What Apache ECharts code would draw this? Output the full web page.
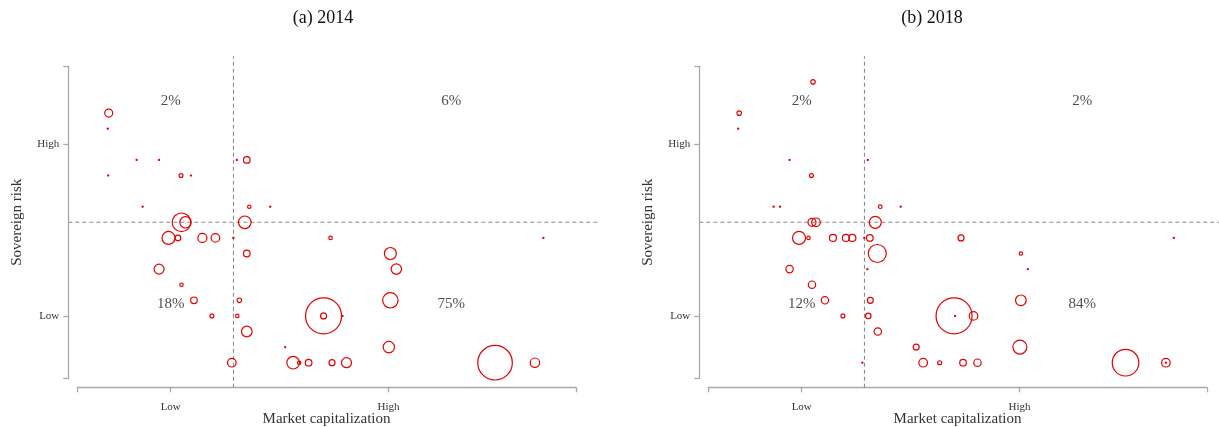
<!DOCTYPE html>
<html><head><meta charset="utf-8">
<script src="https://cdn.jsdelivr.net/npm/echarts@6/dist/echarts.min.js"></script>
<style>html,body{margin:0;padding:0;background:#fff}#c{width:1219px;height:427px}</style>
</head><body><div id="c"></div>
<script>
// ---------------- data ----------------
const panelTitles = ['(a) 2014', '(b) 2018'];
const xAxisName = 'Market capitalization';
const yAxisName = 'Sovereign risk';
const xTickLabels = ['Low', 'High'];
const xTickValues = [18.74, 62.45];
const yTickLabels = ['Low', 'High'];
const yTickValues = [4, 15];
const xThreshold = 31.33;
const yThreshold = 10;

// 2014: market-cap position, sovereign-risk level, bubble weight
const x2014 = [6.3, 6.1, 11.9, 16.4, 6.2, 20.8, 22.8, 13.1, 20.9, 21.7,
  18.3, 20.2, 25.1, 27.7, 31.3, 32.0, 34.0, 34.5, 38.7, 33.6,
  50.8, 93.5, 34.0, 62.8, 64.0, 16.4, 20.9, 23.4, 32.5, 62.8,
  27.0, 32.1, 49.4, 49.4, 53.2, 34.0, 41.7, 62.5, 31.0, 43.3,
  44.5, 46.4, 51.1, 54.0, 83.8, 91.8];
const y2014 = [17, 16, 14, 14, 13, 13, 13, 11, 10, 10,
  9, 9, 9, 9, 9, 14, 14, 11, 11, 10,
  9, 9, 8, 8, 7, 7, 6, 5, 5, 5,
  4, 4, 4, 4, 4, 3, 2, 2, 1, 1,
  1, 1, 1, 1, 1, 1];
const w2014 = [4.9, 0.1, 0.1, 0.1, 0.1, 1.2, 0.1, 0.1, 26.7, 10.0,
  13.0, 2.4, 6.3, 5.7, 0.1, 0.1, 3.4, 0.9, 0.1, 12.3,
  0.9, 0.1, 3.4, 11.1, 8.3, 7.7, 0.9, 3.4, 1.6, 18.3,
  1.2, 0.9, 100, 2.8, 0.1, 8.7, 0.1, 10.0, 5.7, 12.3,
  0.9, 3.4, 2.8, 7.7, 92.4, 6.8];

// 2018
const x2018 = [21.0, 6.2, 6.0, 16.3, 32.0, 20.7, 13.1, 14.4, 34.5, 38.6,
  20.8, 21.6, 33.5, 18.2, 20.1, 25.0, 27.6, 28.9, 31.3, 32.4,
  50.7, 93.4, 33.9, 62.7, 16.3, 31.9, 64.1, 20.8, 23.4, 32.5,
  62.7, 27.0, 32.1, 49.3, 49.5, 53.2, 34.0, 41.7, 62.5, 30.9,
  43.1, 46.4, 51.1, 54.0, 83.7, 91.8, 91.8];
const y2018 = [19, 17, 16, 14, 14, 13, 11, 11, 11, 11,
  10, 10, 10, 9, 9, 9, 9, 9, 9, 9,
  9, 9, 8, 8, 7, 7, 7, 6, 5, 5,
  5, 4, 4, 4, 4, 4, 3, 2, 2, 1,
  1, 1, 1, 1, 1, 1, 1];
const w2018 = [1.6, 1.6, 0.1, 0.1, 0.1, 1.2, 0.1, 0.1, 1.0, 0.1,
  4.9, 5.7, 11.1, 13.0, 0.9, 3.8, 3.8, 3.8, 0.1, 3.4,
  2.8, 0.1, 25.0, 0.9, 4.2, 0.1, 0.1, 4.2, 4.2, 2.8,
  8.7, 1.2, 2.3, 100, 0.1, 5.7, 4.2, 2.8, 15.1, 0.1,
  5.7, 1.2, 3.4, 4.2, 54.6, 5.7, 0.1];

// quadrant shares (top-left, top-right, bottom-left, bottom-right)
const shares2014 = ['2%', '6%', '18%', '75%'];
const shares2018 = ['2%', '2%', '12%', '84%'];
const shareX = [18.74, 75, 18.74, 75];
const shareY = [17.75, 17.75, 4.77, 4.77];

// ---------------- chart ----------------
const FONT = '"Liberation Serif", "DejaVu Serif", serif';
const RED = '#e30000';
const AXIS = '#a8a8a8';
const DASH = '#8a8a8a';
const lineExtentX = [-1.8, 104.8];
const lineExtentY = [-0.6, 20.65];

const panels = [
  {x: x2014, y: y2014, w: w2014, shares: shares2014},
  {x: x2018, y: y2018, w: w2018, shares: shares2018}
];
const gridLefts = [77.3, 708.3];
const titleCenters = [323, 932];
const GRID_W = 498.5, GRID_TOP = 66.3, GRID_H = 312;

const chart = echarts.init(document.getElementById('c'), null, {renderer: 'canvas'});

const grids = [], xAxes = [], yAxes = [], series = [], graphics = [];
panels.forEach((p, i) => {
  grids.push({left: gridLefts[i], top: GRID_TOP, width: GRID_W, height: GRID_H,
    containLabel: false, outerBoundsMode: 'none'});
  xAxes.push({
    gridIndex: i, type: 'value', min: 0, max: 100, offset: 9, position: 'bottom',
    axisLine: {show: true, onZero: false, lineStyle: {color: AXIS, width: 1.3}},
    axisTick: {show: true, customValues: [0, xTickValues[0], xTickValues[1], 100], length: 5,
      lineStyle: {color: AXIS, width: 1.3}},
    axisLabel: {customValues: xTickValues, margin: 14, fontFamily: FONT, fontSize: 11, color: '#333',
      formatter: v => xTickLabels[xTickValues.indexOf(v)] || ''},
    splitLine: {show: false},
    name: xAxisName, nameLocation: 'middle', nameGap: 24, nameMoveOverlap: false,
    nameTextStyle: {fontFamily: FONT, fontSize: 15, color: '#333'}
  });
  yAxes.push({
    gridIndex: i, type: 'value', min: 0, max: 20, offset: 9, position: 'left',
    axisLine: {show: true, onZero: false, lineStyle: {color: AXIS, width: 1.3}},
    axisTick: {show: true, customValues: [0, yTickValues[0], yTickValues[1], 20], length: 5,
      lineStyle: {color: AXIS, width: 1.3}},
    axisLabel: {customValues: yTickValues, margin: 9, fontFamily: FONT, fontSize: 11, color: '#333',
      formatter: v => yTickLabels[yTickValues.indexOf(v)] || ''},
    splitLine: {show: false},
    name: yAxisName, nameLocation: 'middle', nameGap: 44, nameMoveOverlap: false,
    nameTextStyle: {fontFamily: FONT, fontSize: 15, color: '#333'}
  });
  // bubbles
  series.push({
    type: 'scatter', xAxisIndex: i, yAxisIndex: i, clip: false,
    data: p.x.map((xv, k) => [xv, p.y[k], p.w[k]]),
    symbol: 'circle',
    symbolSize: d => 3.6 * Math.sqrt(d[2]),
    itemStyle: {color: 'rgba(255,255,255,0)', borderColor: RED, borderWidth: 1.2, opacity: 1},
    emphasis: {disabled: true}, z: 3, animation: false
  });
  // quadrant share labels
  series.push({
    type: 'scatter', xAxisIndex: i, yAxisIndex: i, symbolSize: 0, silent: true,
    data: p.shares.map((s, k) => ({value: [shareX[k], shareY[k]], name: s})),
    label: {show: true, position: 'inside', formatter: '{b}', fontFamily: FONT, fontSize: 15, color: '#222'},
    z: 4, animation: false
  });
  graphics.push({
    type: 'text', x: titleCenters[i], y: 18,
    style: {text: panelTitles[i], align: 'center', verticalAlign: 'middle',
      font: '18px ' + FONT, fill: '#111'}
  });
});

chart.setOption({
  animation: false,
  backgroundColor: '#fff',
  grid: grids, xAxis: xAxes, yAxis: yAxes, series: series,
  graphic: graphics
});

// threshold dashed lines, placed through the grids' own scales
const lineGraphics = [];
panels.forEach((p, i) => {
  const v0 = chart.convertToPixel({gridIndex: i}, [xThreshold, lineExtentY[0]]);
  const v1 = chart.convertToPixel({gridIndex: i}, [xThreshold, lineExtentY[1]]);
  const h0 = chart.convertToPixel({gridIndex: i}, [lineExtentX[0], yThreshold]);
  const h1 = chart.convertToPixel({gridIndex: i}, [lineExtentX[1], yThreshold]);
  [[v0, v1], [h0, h1]].forEach(([a, b]) => {
    lineGraphics.push({
      type: 'line', silent: true, z: 1,
      shape: {x1: a[0], y1: a[1], x2: b[0], y2: b[1]},
      style: {stroke: DASH, lineWidth: 1.1, lineDash: [4, 3]}
    });
  });
});
chart.setOption({graphic: graphics.concat(lineGraphics)});
</script></body></html>
